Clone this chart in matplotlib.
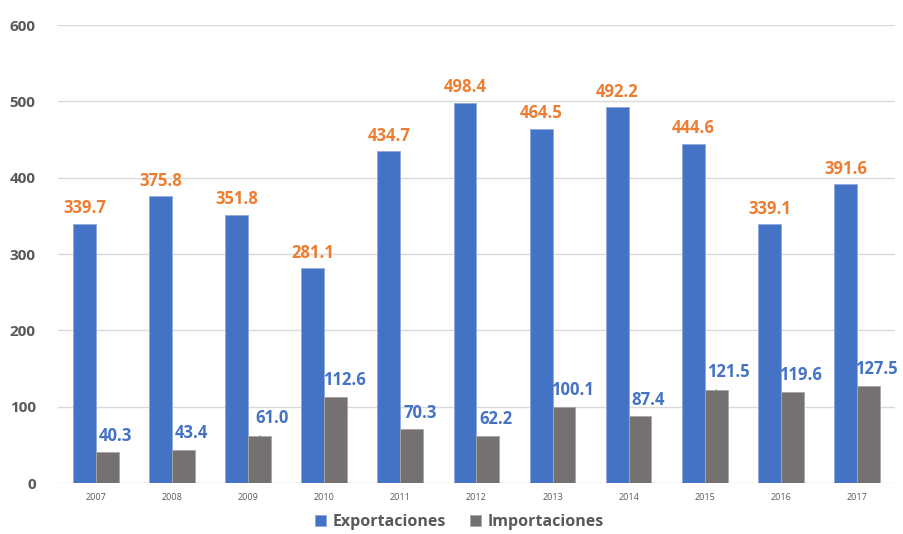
import numpy as np
import matplotlib.pyplot as plt

anios = ['2007', '2008', '2009', '2010', '2011', '2012', '2013', '2014', '2015', '2016', '2017']
exportaciones = [339.7, 375.8, 351.8, 281.1, 434.7, 498.4, 464.5, 492.2, 444.6, 339.1, 391.6]
importaciones = [40.3, 43.4, 61.0, 112.6, 70.3, 62.2, 100.1, 87.4, 121.5, 119.6, 127.5]

AZUL = '#4472C4'
GRIS = '#767171'
NARANJA = '#ED7D31'
TEXTO = '#595959'

plt.rcParams['font.family'] = ['Open Sans', 'DejaVu Sans']

fig = plt.figure(figsize=(9.04, 5.34), dpi=100)
ax = fig.add_axes([0.064, 0.0955, 0.926, 0.8575])

x = np.arange(len(anios))
w = 0.30
b1 = ax.bar(x - w / 2, exportaciones, w, color=AZUL, edgecolor='#8FAADC', linewidth=0.6,
            label='Exportaciones', zorder=3)
b2 = ax.bar(x + w / 2, importaciones, w, color=GRIS, edgecolor='#A6A6A6', linewidth=0.6,
            label='Importaciones', zorder=3)

# etiquetas de exportaciones
for xi, v in zip(x, exportaciones):
    ax.annotate(f'{v:.1f}', (xi - w / 2, v), xytext=(0, 11), textcoords='offset points',
                ha='center', va='center', color=NARANJA, fontsize=12, fontweight='bold')

# etiquetas de importaciones
for i, (xi, v) in enumerate(zip(x, importaciones)):
    if anios[i] in ('2009', '2015'):
        ax.annotate(f'{v:.1f}', (xi + w / 2, v), xytext=(9, 13), textcoords='offset points',
                    ha='center', va='center', color=AZUL, fontsize=12, fontweight='bold',
                    arrowprops=dict(arrowstyle='-', color='#808080', lw=0.8,
                                    shrinkA=5, shrinkB=0))
    else:
        ax.annotate(f'{v:.1f}', (xi + w / 2, v), xytext=(6, 12), textcoords='offset points',
                    ha='center', va='center', color=AZUL, fontsize=12, fontweight='bold')

ax.set_xlim(-0.5, len(anios) - 0.5)
ax.set_ylim(0, 600)
ax.set_yticks(range(0, 601, 100))
ax.set_xticks(x)
ax.set_xticklabels(anios, fontsize=6.5, color=TEXTO)
for t in ax.get_yticklabels():
    t.set_fontsize(11)
    t.set_fontweight('bold')
    t.set_color(TEXTO)

ax.yaxis.grid(True, color='#D9D9D9', linewidth=1, zorder=0)
ax.tick_params(axis='both', length=0)
ax.tick_params(axis='y', pad=16)
ax.tick_params(axis='x', pad=7)
for s in ax.spines.values():
    s.set_visible(False)

leg = fig.legend(handles=[b1, b2], loc='center', bbox_to_anchor=(0.508, 0.022), ncol=2,
                 frameon=False, fontsize=11.5, handlelength=0.7, handleheight=0.7,
                 columnspacing=1.5, handletextpad=0.4)
for t in leg.get_texts():
    t.set_color(TEXTO)
    t.set_fontweight('bold')

fig.savefig('out.png', dpi=100)
